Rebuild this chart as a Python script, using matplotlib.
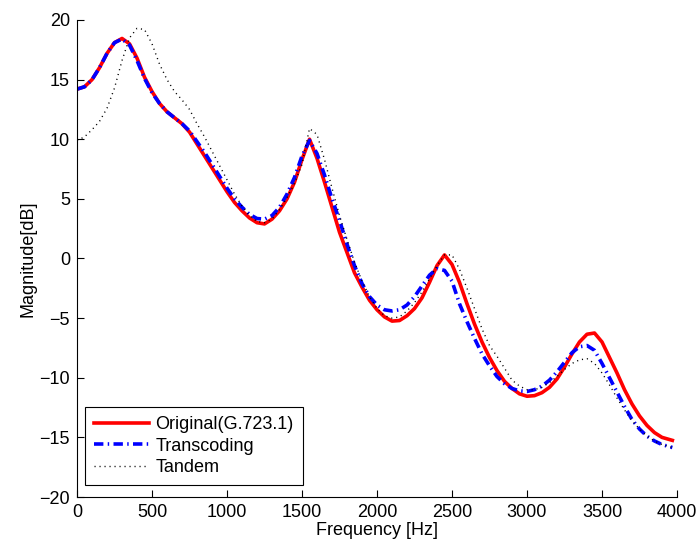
import numpy as np
import matplotlib.pyplot as plt

plt.rcParams['font.family'] = ['Liberation Sans', 'DejaVu Sans']

# Frequency grid [Hz]
freq = [0, 50, 100, 150, 200, 250, 300, 350, 400, 450,
        500, 550, 600, 650, 700, 750, 800, 850, 900, 950,
        1000, 1050, 1100, 1150, 1200, 1250, 1300, 1350, 1400, 1450,
        1500, 1550, 1600, 1650, 1700, 1750, 1800, 1850, 1900, 1950,
        2000, 2050, 2100, 2150, 2200, 2250, 2300, 2350, 2400, 2450,
        2500, 2550, 2600, 2650, 2700, 2750, 2800, 2850, 2900, 2950,
        3000, 3050, 3100, 3150, 3200, 3250, 3300, 3350, 3400, 3450,
        3500, 3550, 3600, 3650, 3700, 3750, 3800, 3850, 3900, 3969]

# Magnitude [dB]
original = [14.2, 14.4, 15.0, 16.0, 17.2, 18.1, 18.45, 18.0, 16.8, 15.2,
            14.0, 13.0, 12.3, 11.8, 11.3, 10.6, 9.6, 8.6, 7.6, 6.6,
            5.6, 4.7, 4.0, 3.4, 3.0, 2.9, 3.3, 4.0, 5.0, 6.4,
            8.3, 10.0, 8.4, 6.4, 4.3, 2.2, 0.5, -1.2, -2.4, -3.5,
            -4.3, -4.9, -5.25, -5.2, -4.8, -4.2, -3.3, -2.0, -0.6, 0.3,
            -0.5, -2.0, -3.8, -5.5, -7.0, -8.3, -9.4, -10.3, -10.9, -11.35,
            -11.55, -11.5, -11.25, -10.8, -10.1, -9.1, -8.0, -7.0, -6.35, -6.25,
            -7.0, -8.3, -9.6, -11.0, -12.2, -13.2, -14.0, -14.6, -15.0, -15.25]

transcoding = [14.2, 14.4, 15.0, 16.0, 17.2, 18.1, 18.4, 17.9, 16.6, 15.1,
               13.9, 13.0, 12.3, 11.8, 11.3, 10.7, 9.8, 8.9, 7.9, 6.9,
               5.9, 5.0, 4.3, 3.7, 3.35, 3.3, 3.6, 4.3, 5.4, 6.8,
               8.6, 9.9, 8.8, 7.0, 5.0, 3.2, 1.2, -0.6, -2.1, -3.2,
               -3.9, -4.3, -4.4, -4.3, -3.9, -3.2, -2.3, -1.4, -0.85, -1.0,
               -1.9, -3.8, -5.3, -6.7, -8.0, -9.0, -9.9, -10.5, -10.9, -11.1,
               -11.15, -11.0, -10.7, -10.2, -9.5, -8.7, -7.9, -7.4, -7.3, -7.7,
               -8.8, -10.0, -11.2, -12.4, -13.5, -14.3, -14.9, -15.3, -15.6, -15.85]

tandem = [9.9, 10.2, 10.8, 11.5, 12.6, 14.3, 16.6, 18.5, 19.3, 19.2,
          18.0, 16.3, 15.0, 14.0, 13.3, 12.5, 11.3, 10.2, 9.0, 7.8,
          6.6, 5.4, 4.4, 3.6, 3.1, 3.0, 3.3, 4.1, 5.1, 6.3,
          7.9, 10.9, 10.4, 8.3, 5.9, 3.6, 1.6, -0.3, -1.9, -3.2,
          -4.2, -4.8, -5.0, -4.9, -4.4, -3.7, -2.8, -1.7, -0.6, 0.3,
          0.3, -0.9, -2.5, -4.2, -5.9, -7.3, -8.2, -9.2, -10.2, -10.7,
          -11.0, -11.0, -10.8, -10.4, -9.9, -9.3, -8.8, -8.5, -8.4, -8.8,
          -9.6, -10.6, -11.7, -12.7, -13.6, -14.3, -14.9, -15.3, -15.6, -15.85]

fig = plt.figure(figsize=(6.97, 5.43), dpi=100)
ax = fig.add_axes([0.1105, 0.0847, 0.8608, 0.8785])

ax.plot(freq, original, color='red', lw=2.6, label='Original(G.723.1)')
ax.plot(freq, transcoding, color='blue', lw=2.6, dashes=(2.6, 1.2, 0.4, 1.2),
        label='Transcoding')
ax.plot(freq, tandem, color='black', lw=1.0, dashes=(0.8, 2.8), label='Tandem')

ax.set_xlim(0, 4000)
ax.set_ylim(-20, 20)
ax.set_xticks(np.arange(0, 4001, 500))
ax.set_yticks(np.arange(-20, 21, 5))
ax.spines['top'].set_visible(False)
ax.spines['right'].set_visible(False)
ax.tick_params(direction='in', length=5, labelsize=13, pad=5)
ax.set_xlabel('Frequency [Hz]', fontsize=13, labelpad=1)
ax.set_ylabel('Magnitude[dB]', fontsize=13, labelpad=2)

leg = ax.legend(loc='lower left', bbox_to_anchor=(0.013, 0.025), fontsize=13,
                handlelength=3.05, fancybox=False, framealpha=1,
                edgecolor='black', borderaxespad=0, labelspacing=0.25,
                borderpad=0.5, handletextpad=0.35)
leg.get_frame().set_linewidth(0.8)

fig.savefig('out.png', dpi=100)
